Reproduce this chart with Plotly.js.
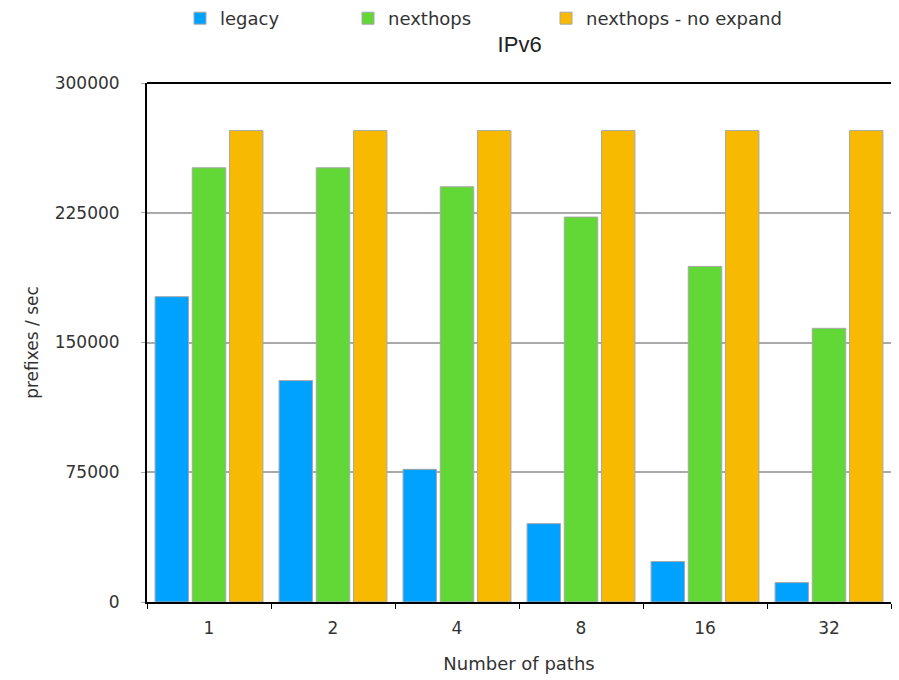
<!DOCTYPE html>
<html>
<head>
<meta charset="utf-8">
<script src="https://cdn.plot.ly/plotly-3.0.1.min.js"></script>
<style>html,body{margin:0;padding:0;background:#fff;}#chart{width:899px;height:680px;}</style>
</head>
<body>
<div id="chart"></div>
<script>
var categories = ["1", "2", "4", "8", "16", "32"];
var legacy = [176500, 128000, 76700, 45300, 23400, 11200];
var nexthops = [251000, 251000, 240000, 222500, 194000, 158200];
var noExpand = [272500, 272500, 272500, 272500, 272500, 272500];
var seriesNames = ["legacy", "nexthops", "nexthops - no expand"];
var seriesColors = ["#00a2ff", "#61d836", "#f8ba00"];
var yTicks = [0, 75000, 150000, 225000, 300000];

var legendIds = ["legend", "legend2", "legend3"];
var legendTextX = [220, 388, 586];

var seriesValues = [legacy, nexthops, noExpand];
var traces = seriesValues.map(function (vals, i) {
  return {
    type: "bar",
    name: seriesNames[i],
    legend: legendIds[i],
    x: categories,
    y: vals,
    marker: { color: seriesColors[i], line: { color: "#a8a8a8", width: 1 } },
    hoverinfo: "x+y+name"
  };
});

var font = "DejaVu Sans, Verdana, sans-serif";

var layout = {
  width: 899,
  height: 680,
  margin: { l: 147, r: 8, t: 83, b: 78 },
  paper_bgcolor: "#fff",
  plot_bgcolor: "#fff",
  font: { family: font, size: 17, color: "#333" },
  title: { text: "IPv6", x: 0.578, xanchor: "center", y: 0.935, yanchor: "middle", font: { family: "Liberation Sans, Arial, sans-serif", size: 22, color: "#222" } },
  barmode: "group",
  bargap: 0.1,
  bargroupgap: 0.1,
  showlegend: true,
  xaxis: {
    type: "category",
    tickson: "boundaries",
    ticks: "outside",
    ticklen: 5,
    tickcolor: "#000",
    showline: true,
    linecolor: "#000",
    linewidth: 2,
    showgrid: false,
    tickfont: { size: 17, color: "#333" },
    ticklabelstandoff: 10,
    title: { text: "Number of paths", font: { size: 18, color: "#333" }, standoff: 20 }
  },
  yaxis: {
    range: [0, 300000],
    tickvals: yTicks,
    ticktext: yTicks.map(String),
    showline: true,
    linecolor: "#000",
    linewidth: 2,
    showgrid: true,
    gridcolor: "#aaaaaa",
    gridwidth: 2,
    zeroline: false,
    ticks: "outside",
    ticklen: 4,
    tickcolor: "#aaaaaa",
    tickfont: { size: 17, color: "#333" },
    ticklabelstandoff: 18,
    title: { text: "prefixes / sec", font: { size: 17, color: "#333" }, standoff: 12 }
  },
  shapes: [
    { type: "line", xref: "paper", yref: "paper", x0: 0, x1: 1, y0: 1, y1: 1, line: { color: "#000", width: 2 } }
  ]
};

legendIds.forEach(function (id, i) {
  layout[id] = {
    orientation: "h",
    xref: "container",
    yref: "container",
    x: (legendTextX[i] - 40) / 899,
    xanchor: "left",
    y: 1.0,
    yanchor: "top",
    font: { size: 18, color: "#333" },
    bgcolor: "rgba(0,0,0,0)"
  };
});

Plotly.newPlot("chart", traces, layout, { displayModeBar: false, staticPlot: true });
</script>
</body>
</html>
